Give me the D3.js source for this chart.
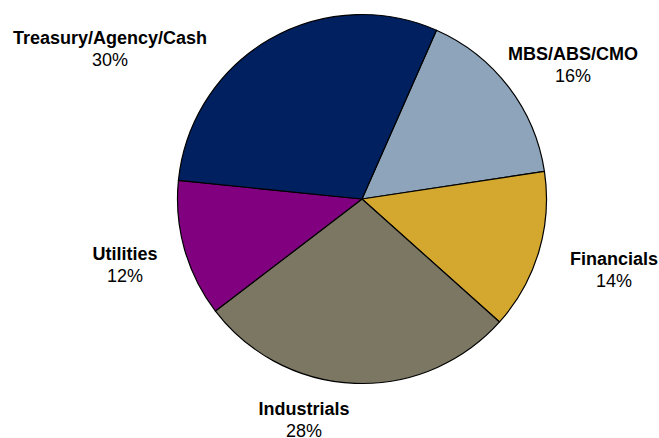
<!DOCTYPE html>
<html><head><meta charset="utf-8">
<script src="https://cdn.jsdelivr.net/npm/d3@7/dist/d3.min.js"></script>
<style>html,body{margin:0;padding:0;background:#fff;overflow:hidden;}</style>
</head><body>
<svg id="chart" width="659" height="438"></svg>
<script>
const categories = ["MBS/ABS/CMO", "Financials", "Industrials", "Utilities", "Treasury/Agency/Cash"];
const values = [16, 14, 28, 12, 30];
const colors = ["#8DA4BA", "#D4A72F", "#7B7763", "#800080", "#002060"];
const labelPos = [[573, 60], [614, 265], [304, 415], [125, 260], [110, 44]];

const svg = d3.select("#chart");
const cx = 362, cy = 199, r = 184.5;
const startAngle = 23.8 * Math.PI / 180;

const pie = d3.pie().sort(null).value(d => d)
  .startAngle(startAngle).endAngle(startAngle + 2 * Math.PI);
const arc = d3.arc().innerRadius(0).outerRadius(r);
const color = d3.scaleOrdinal().domain(categories).range(colors);

const g = svg.append("g").attr("transform", `translate(${cx},${cy})`);
g.selectAll("path").data(pie(values)).join("path")
  .attr("d", arc)
  .attr("fill", (d, i) => color(categories[i]))
  .attr("stroke", "#000")
  .attr("stroke-width", 1.2)
  .attr("stroke-linejoin", "round");

const lg = svg.append("g").attr("font-family", "Liberation Sans, Arial, sans-serif").attr("font-size", 18).attr("fill", "#000");
categories.forEach((c, i) => {
  const [x, y] = labelPos[i];
  lg.append("text").attr("x", x).attr("y", y).attr("text-anchor", "middle")
    .attr("font-weight", "bold").text(c);
  lg.append("text").attr("x", x).attr("y", y + 21.5).attr("text-anchor", "middle")
    .text(values[i] + "%");
});
</script>
</body></html>
